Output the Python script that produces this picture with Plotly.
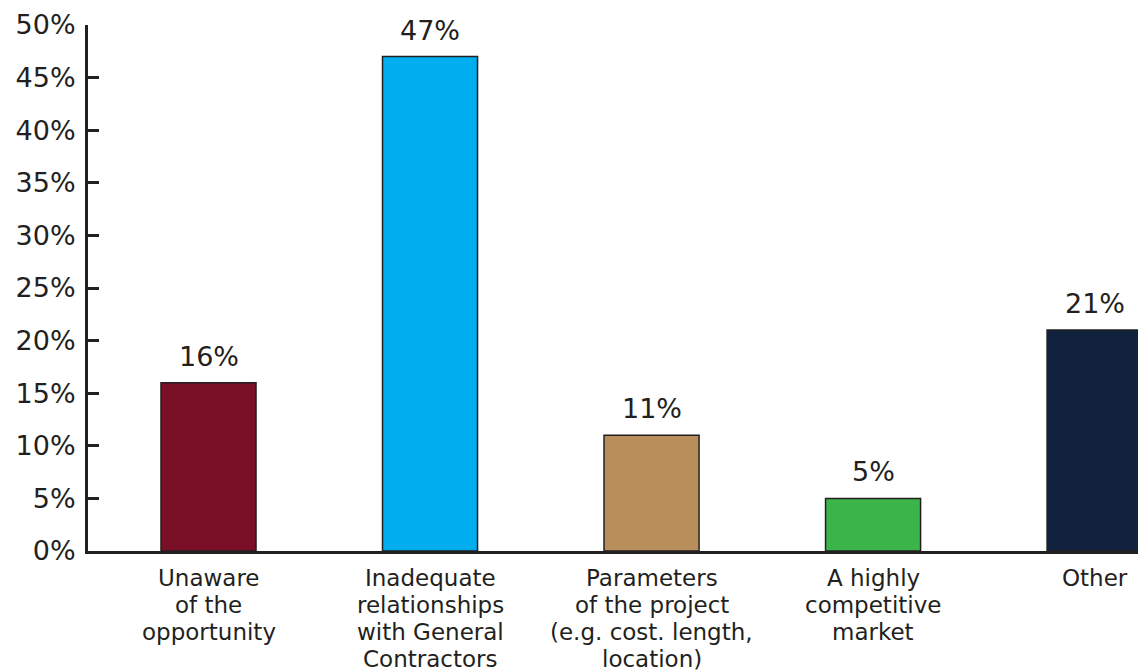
import plotly.graph_objects as go

categories = [
    "Unaware<br>of the<br>opportunity",
    "Inadequate<br>relationships<br>with General<br>Contractors",
    "Parameters<br>of the project<br>(e.g. cost. length,<br>location)",
    "A highly<br>competitive<br>market",
    "Other",
]
values = [16, 47, 11, 5, 21]
bar_colors = ["#7a0f28", "#00aeef", "#b88f5a", "#3bb54a", "#11223f"]
y_ticks = [0, 5, 10, 15, 20, 25, 30, 35, 40, 45, 50]
y_tick_labels = [f"{t}%" for t in y_ticks]

ink = "#231f20"
font_family = "DejaVu Sans"
line_step = 27  # tight line spacing for the category captions

positions = list(range(len(categories)))

fig = go.Figure(
    go.Bar(
        x=positions,
        y=values,
        width=0.429,
        marker=dict(color=bar_colors, line=dict(color=ink, width=1.5)),
        hoverinfo="skip",
    )
)

# value labels above each bar
for i, v in zip(positions, values):
    fig.add_annotation(
        x=i, y=v, text=f"{v}%", showarrow=False,
        yanchor="bottom", yshift=10, borderpad=0,
        font=dict(family=font_family, size=27, color=ink),
    )

# category captions under the axis, one annotation per line
for i, cat in zip(positions, categories):
    for k, line in enumerate(cat.split("<br>")):
        fig.add_annotation(
            x=i, xref="x", y=0, yref="paper", text=line, showarrow=False,
            yanchor="middle", yshift=-(27 + k * line_step), borderpad=0,
            font=dict(family=font_family, size=23, color=ink),
        )

fig.update_layout(
    width=1138, height=671,
    margin=dict(l=88, r=0, t=25, b=120),
    paper_bgcolor="white", plot_bgcolor="white",
    showlegend=False,
    font=dict(family=font_family, color=ink),
    xaxis=dict(
        range=[-0.544, 4.196],
        showticklabels=False,
        showline=True, linecolor=ink, linewidth=3,
        ticks="", showgrid=False, zeroline=False,
        fixedrange=True,
    ),
    yaxis=dict(
        range=[0, 50],
        tickmode="array",
        tickvals=y_ticks,
        ticktext=y_tick_labels,
        tickfont=dict(family=font_family, size=27, color=ink),
        ticklabelstandoff=4,
        showline=True, linecolor=ink, linewidth=3,
        ticks="inside", ticklen=11, tickwidth=2.5, tickcolor=ink,
        showgrid=False, zeroline=False,
        fixedrange=True,
    ),
)

fig.write_html("out.html")
